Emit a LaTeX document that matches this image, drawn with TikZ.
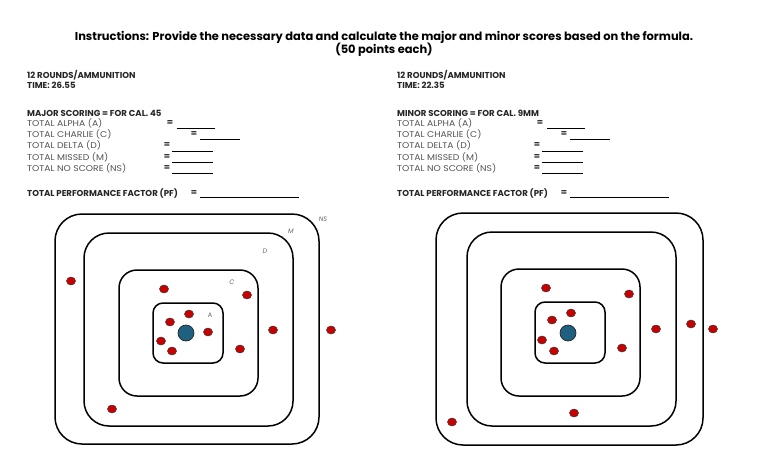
\documentclass[tikz,border=0pt]{standalone}
\usepackage{fontspec}
\usepackage{graphicx}
\setmainfont{Poppins}
\usetikzlibrary{shapes.geometric}
\newcommand\myLbl[1]{\scalebox{1.1}[1]{#1}}
\tikzset{
  ttl/.style={anchor=base, inner sep=0, font=\fontsize{11.45}{12}\selectfont\bfseries, text=black},
  hdr/.style={anchor=west, inner sep=0, font=\fontsize{8.6}{9}\selectfont\bfseries, text=black!85},
  lbl/.style={anchor=west, inner sep=0, font=\fontsize{8.4}{9}\selectfont, text=black!68},
  eq/.style={inner sep=0, font=\fontsize{9}{9}\selectfont\bfseries, text=black!80},
  blank/.style={line width=0.8pt, black},
  ring/.style={line width=1.5pt, black},
  zone/.style={inner sep=0, font=\fontsize{6.5}{7}\selectfont\itshape, text=black!60},
  hit/.style={ellipse, draw=black!80, line width=0.5pt, fill={rgb,255:red,200;green,0;blue,0}, minimum width=9pt, minimum height=8pt, inner sep=0},
  bull/.style={circle, draw=black!85, line width=0.7pt, fill={rgb,255:red,31;green,96;blue,128}, minimum size=16pt, inner sep=0}
}
\begin{document}
\begin{tikzpicture}[x=1pt,y=-1pt]
\useasboundingbox (0,0) rectangle (768,466);
\node[ttl] (t1) at (384,40) {Instructions: Provide the necessary data and calculate the major and minor scores based on the formula.};
\node[ttl] (t2) at (384,53) {(50 points each)};
% ---- left block
\begin{scope}[shift={(27,0)}]
\node[hdr] (la) at (0,75) {12 ROUNDS/AMMUNITION};
\node[hdr] (lb) at (0,85) {TIME: 26.55};
\node[hdr] (lc) at (0,113) {MAJOR SCORING = FOR CAL. 45};
\node[lbl] (ld) at (0,123) {\myLbl{TOTAL ALPHA (A)}};
\node[lbl] (le) at (0,134) {\myLbl{TOTAL CHARLIE (C)}};
\node[lbl] (lf) at (0,145) {\myLbl{TOTAL DELTA (D)}};
\node[lbl] (lg) at (0,157) {\myLbl{TOTAL MISSED (M)}};
\node[lbl] (lh) at (0,168) {\myLbl{TOTAL NO SCORE (NS)}};
\node[hdr] (li) at (0,193) {TOTAL PERFORMANCE FACTOR (PF)};
\node[eq] (ld=) at (143,123) {=}; \draw[blank] (150,128) -- (188,128);
\node[eq] (le=) at (167,134) {=}; \draw[blank] (173,139) -- (213,139);
\node[eq] (lf=) at (140,145) {=}; \draw[blank] (145,151) -- (186,151);
\node[eq] (lg=) at (140,157) {=}; \draw[blank] (145,162) -- (186,162);
\node[eq] (lh=) at (140,168) {=}; \draw[blank] (145,173) -- (186,173);
\node[eq] (li=) at (167,193) {=}; \draw[blank] (173,197) -- (272,197);
\end{scope}
% ---- right block
\begin{scope}[shift={(397,0)}]
\node[hdr] (ra) at (0,75) {12 ROUNDS/AMMUNITION};
\node[hdr] (rb) at (0,85) {TIME: 22.35};
\node[hdr] (rc) at (0,113) {MINOR SCORING = FOR CAL. 9MM};
\node[lbl] (rd) at (0,123) {\myLbl{TOTAL ALPHA (A)}};
\node[lbl] (re) at (0,134) {\myLbl{TOTAL CHARLIE (C)}};
\node[lbl] (rf) at (0,145) {\myLbl{TOTAL DELTA (D)}};
\node[lbl] (rg) at (0,157) {\myLbl{TOTAL MISSED (M)}};
\node[lbl] (rh) at (0,168) {\myLbl{TOTAL NO SCORE (NS)}};
\node[hdr] (ri) at (0,193) {TOTAL PERFORMANCE FACTOR (PF)};
\node[eq] (rd=) at (143,123) {=}; \draw[blank] (150,128) -- (188,128);
\node[eq] (re=) at (167,134) {=}; \draw[blank] (173,139) -- (213,139);
\node[eq] (rf=) at (140,145) {=}; \draw[blank] (145,151) -- (186,151);
\node[eq] (rg=) at (140,157) {=}; \draw[blank] (145,162) -- (186,162);
\node[eq] (rh=) at (140,168) {=}; \draw[blank] (145,173) -- (186,173);
\node[eq] (ri=) at (167,193) {=}; \draw[blank] (173,197) -- (272,197);
\end{scope}
% ---- left target
\draw[ring, rounded corners=27pt] (55,214) rectangle (319,444);
\draw[ring, rounded corners=25pt] (84,233) rectangle (293,426);
\draw[ring, rounded corners=18pt] (119,270) rectangle (258,396);
\draw[ring, rounded corners=10pt] (153,303) rectangle (223,363);
\node[zone] (lns) at (323,219) {NS};
\node[zone] (lm) at (291,231) {M};
\node[zone] (ldz) at (265,251) {D};
\node[zone] (lcz) at (232,282) {C};
\node[zone, font=\fontsize{6.5}{7}\selectfont] (laz) at (210,315) {A};
\node[bull] (lbull) at (186,333) {};
\foreach \p [count=\i] in {(71,281),(164,289),(247,295),(189,314),(170,322),(208,332),(161,341),(172,351),(240,349),(273,330),(331,330),(112,409)}
  \node[hit] (lh\i) at \p {};
% ---- right target
\draw[ring, rounded corners=27pt] (436,213) rectangle (703,445);
\draw[ring, rounded corners=25pt] (467,232) rectangle (676,426);
\draw[ring, rounded corners=18pt] (501,269) rectangle (640,396);
\draw[ring, rounded corners=10pt] (535,302) rectangle (605,363);
\node[bull] (rbull) at (568,333) {};
\foreach \p [count=\i] in {(546,288),(629,294),(571,313),(552,320),(542,340),(554,351),(622,348),(656,329),(691,324),(713,329),(574,413),(452,422)}
  \node[hit] (rh\i) at \p {};
\end{tikzpicture}
\end{document}
